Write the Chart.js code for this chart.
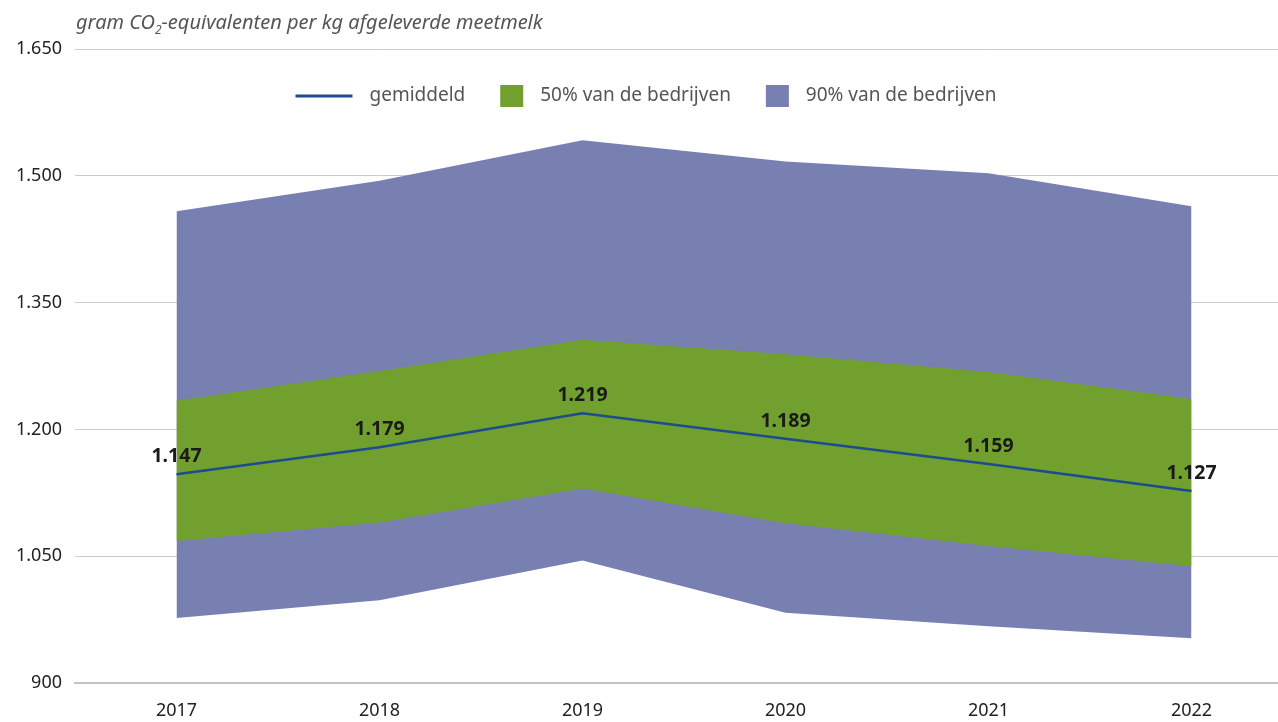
<!DOCTYPE html>
<html>
<head>
<meta charset="utf-8">
<script src="https://cdn.jsdelivr.net/npm/chart.js@4.4.0/dist/chart.umd.min.js"></script>
<style>
  html, body { margin: 0; padding: 0; background: #fff; overflow: hidden; }
  #wrap { position: relative; width: 1293px; height: 722px; }
  #unit {
    position: absolute; left: 76px; top: 8px;
    font-family: "Noto Sans", sans-serif; font-style: italic; font-size: 20px; color: #555;
  }
  #unit sub { font-size: 12px; vertical-align: -5px; }
</style>
</head>
<body>
<div id="wrap">
  <canvas id="myChart" width="1293" height="722"></canvas>
  <div id="unit">gram CO<sub>2</sub>-equivalenten per kg afgeleverde meetmelk</div>
</div>
<script>
const years = ['2017', '2018', '2019', '2020', '2021', '2022'];
const gemiddeld = [1147, 1179, 1219, 1189, 1159, 1127];
const p50Hoog = [1234, 1269, 1306, 1289, 1268, 1236];
const p50Laag = [1068, 1090, 1130, 1089, 1062, 1038];
const p90Hoog = [1458, 1494, 1542, 1517, 1503, 1464];
const p90Laag = [977, 998, 1045, 983, 967, 953];
const yTicks = [900, 1050, 1200, 1350, 1500, 1650];

const blauw = '#1c4b8f';
const groen = '#72a02f';
const paars = '#7880b1';

function nl(v) {
    return String(v).replace(/\B(?=(\d{3})+(?!\d))/g, '.');
}

// labels boven de lijn
const labelPlugin = {
    id: 'labels',
    afterDatasetsDraw(chart) {
        const meta = chart.getDatasetMeta(0);
        const ctx = chart.ctx;
        ctx.save();
        ctx.font = 'bold 19.5px "Noto Sans", sans-serif';
        ctx.fillStyle = '#1a1a1a';
        ctx.textAlign = 'center';
        ctx.textBaseline = 'bottom';
        meta.data.forEach((pt, i) => {
            ctx.fillText(nl(gemiddeld[i]), pt.x, pt.y - 8);
        });
        ctx.restore();
    }
};

// eigen legenda
const legendPlugin = {
    id: 'eigenLegenda',
    afterDraw(chart) {
        const ctx = chart.ctx;
        const items = [
            { text: chart.data.datasets[0].label, color: blauw, line: true },
            { text: chart.data.datasets[1].label, color: groen },
            { text: chart.data.datasets[3].label, color: paars }
        ];
        ctx.save();
        ctx.font = '19px "Noto Sans", sans-serif';
        ctx.textBaseline = 'middle';
        const y = 96;
        let widths = items.map(it => (it.line ? 57 : 23) + 17 + ctx.measureText(it.text).width);
        let total = widths.reduce((a, b) => a + b, 0) + 35 * (items.length - 1);
        let x = 646 - total / 2;
        items.forEach((it, i) => {
            if (it.line) {
                ctx.strokeStyle = it.color;
                ctx.lineWidth = 3;
                ctx.beginPath();
                ctx.moveTo(x, y);
                ctx.lineTo(x + 57, y);
                ctx.stroke();
                x += 57 + 17;
            } else {
                ctx.fillStyle = it.color;
                ctx.fillRect(x, y - 11, 23, 22);
                x += 23 + 17;
            }
            ctx.fillStyle = '#555';
            ctx.fillText(it.text, x, y);
            x += ctx.measureText(it.text).width + 35;
        });
        ctx.restore();
    }
};

const ctx = document.getElementById('myChart');
new Chart(ctx, {
    type: 'line',
    data: {
        labels: years,
        datasets: [
            {
                label: 'gemiddeld',
                data: gemiddeld,
                borderColor: blauw,
                borderWidth: 2.5,
                pointRadius: 0,
                fill: false
            },
            {
                label: '50% van de bedrijven',
                data: p50Hoog,
                backgroundColor: groen,
                borderWidth: 0,
                pointRadius: 0,
                fill: '+1'
            },
            {
                label: 'p50 laag',
                data: p50Laag,
                borderWidth: 0,
                pointRadius: 0,
                fill: false
            },
            {
                label: '90% van de bedrijven',
                data: p90Hoog,
                backgroundColor: paars,
                borderWidth: 0,
                pointRadius: 0,
                fill: '+1'
            },
            {
                label: 'p90 laag',
                data: p90Laag,
                borderWidth: 0,
                pointRadius: 0,
                fill: false
            }
        ]
    },
    options: {
        responsive: false,
        animation: false,
        layout: { padding: { top: 49, right: 0, bottom: 0, left: 0 } },
        plugins: {
            legend: { display: false },
            tooltip: { enabled: false }
        },
        scales: {
            x: {
                offset: true,
                grid: { display: false, drawTicks: false },
                border: { display: true, color: '#c4c4c4', width: 2 },
                ticks: {
                    padding: 17,
                    color: '#222',
                    font: { family: 'Noto Sans', size: 18 }
                },
                afterFit(scale) { scale.height = 39; }
            },
            y: {
                min: 900,
                max: 1650,
                z: 1,
                afterBuildTicks(scale) {
                    scale.ticks = yTicks.map(v => ({ value: v }));
                },
                grid: { color: '#cccccc', lineWidth: 1, drawTicks: false },
                border: { display: false },
                ticks: {
                    padding: 13,
                    color: '#222',
                    font: { family: 'Noto Sans', size: 18 },
                    callback: v => nl(v)
                },
                afterFit(scale) { scale.width = 75; }
            }
        }
    },
    plugins: [labelPlugin, legendPlugin]
});
</script>
</body>
</html>
